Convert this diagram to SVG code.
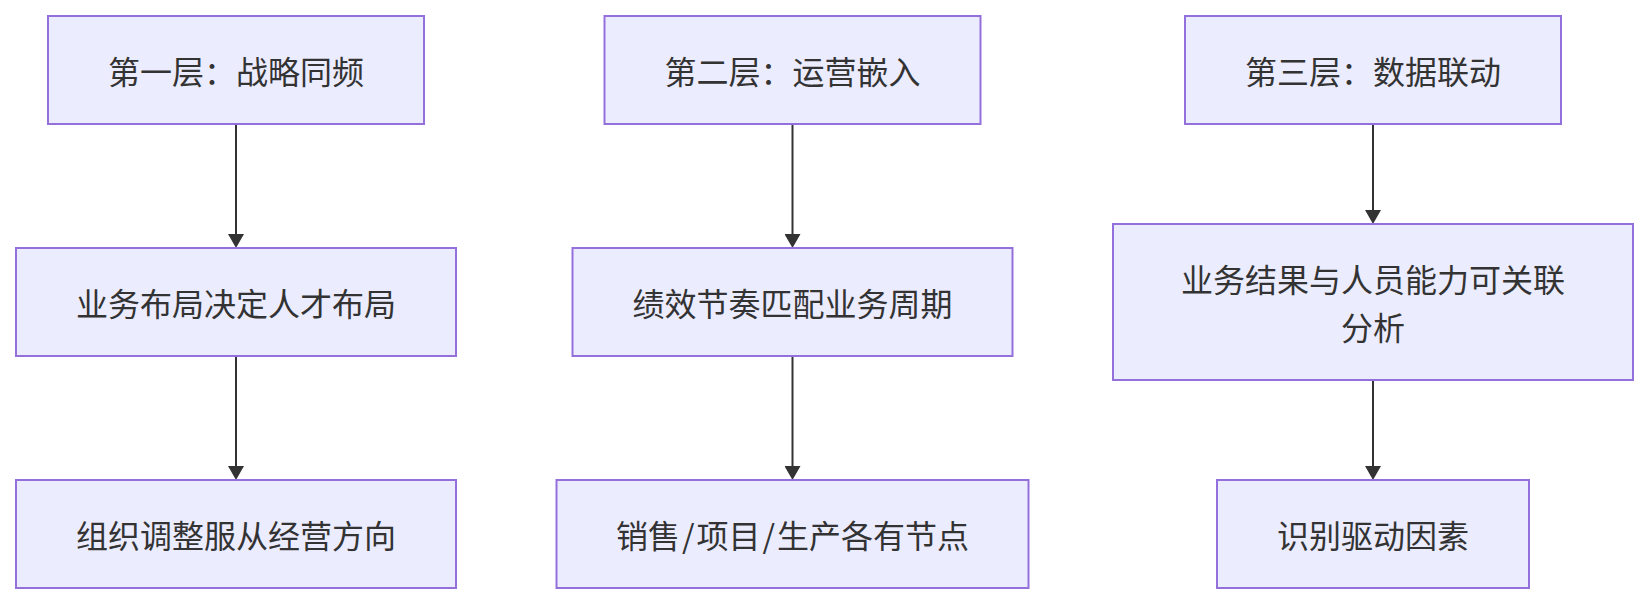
<svg xmlns="http://www.w3.org/2000/svg" width="1648" height="604" viewBox="0 0 1648 604">
<style>
.node rect{fill:#ECECFF;stroke:#9370DB;stroke-width:2}
.node text{font-family:"Noto Sans CJK SC","Noto Sans",sans-serif;font-size:32px;fill:#333;text-anchor:middle;dominant-baseline:central}
.edge{stroke:#333;stroke-width:2;fill:none;marker-end:url(#arrow)}
</style>
<defs>
<marker id="arrow" markerUnits="userSpaceOnUse" markerWidth="14" markerHeight="16" refX="10" refY="8" orient="auto">
<path d="M0,0 L14,8 L0,16 z" fill="#333"/>
</marker>
</defs>
<rect width="1648" height="604" fill="#fff"/>
<g id="connectors">
<path class="edge" d="M236,124 L236,244"/>
<path class="edge" d="M236,356 L236,476"/>
<path class="edge" d="M792.5,124 L792.5,244"/>
<path class="edge" d="M792.5,356 L792.5,476"/>
<path class="edge" d="M1373,124 L1373,220"/>
<path class="edge" d="M1373,380 L1373,476"/>
</g>
<g id="A1" class="node"><rect x="48" y="16" width="376" height="108"/><text x="236" y="70">第一层：战略同频</text></g>
<g id="A2" class="node"><rect x="16" y="248" width="440" height="108"/><text x="236" y="302">业务布局决定人才布局</text></g>
<g id="A3" class="node"><rect x="16" y="480" width="440" height="108"/><text x="236" y="534">组织调整服从经营方向</text></g>
<g id="B1" class="node"><rect x="604.5" y="16" width="376" height="108"/><text x="792.5" y="70">第二层：运营嵌入</text></g>
<g id="B2" class="node"><rect x="572.5" y="248" width="440" height="108"/><text x="792.5" y="302">绩效节奏匹配业务周期</text></g>
<g id="B3" class="node"><rect x="556.5" y="480" width="472" height="108"/><text x="792.5" y="534">销售<tspan dx="2">/</tspan><tspan dx="2">项目</tspan><tspan dx="2">/</tspan><tspan dx="2">生产各有节点</tspan></text></g>
<g id="C1" class="node"><rect x="1185" y="16" width="376" height="108"/><text x="1373" y="70">第三层：数据联动</text></g>
<g id="C2" class="node"><rect x="1113" y="224" width="520" height="156"/><text x="1373" y="278">业务结果与人员能力可关联</text><text x="1373" y="326">分析</text></g>
<g id="C3" class="node"><rect x="1217" y="480" width="312" height="108"/><text x="1373" y="534">识别驱动因素</text></g>
</svg>
